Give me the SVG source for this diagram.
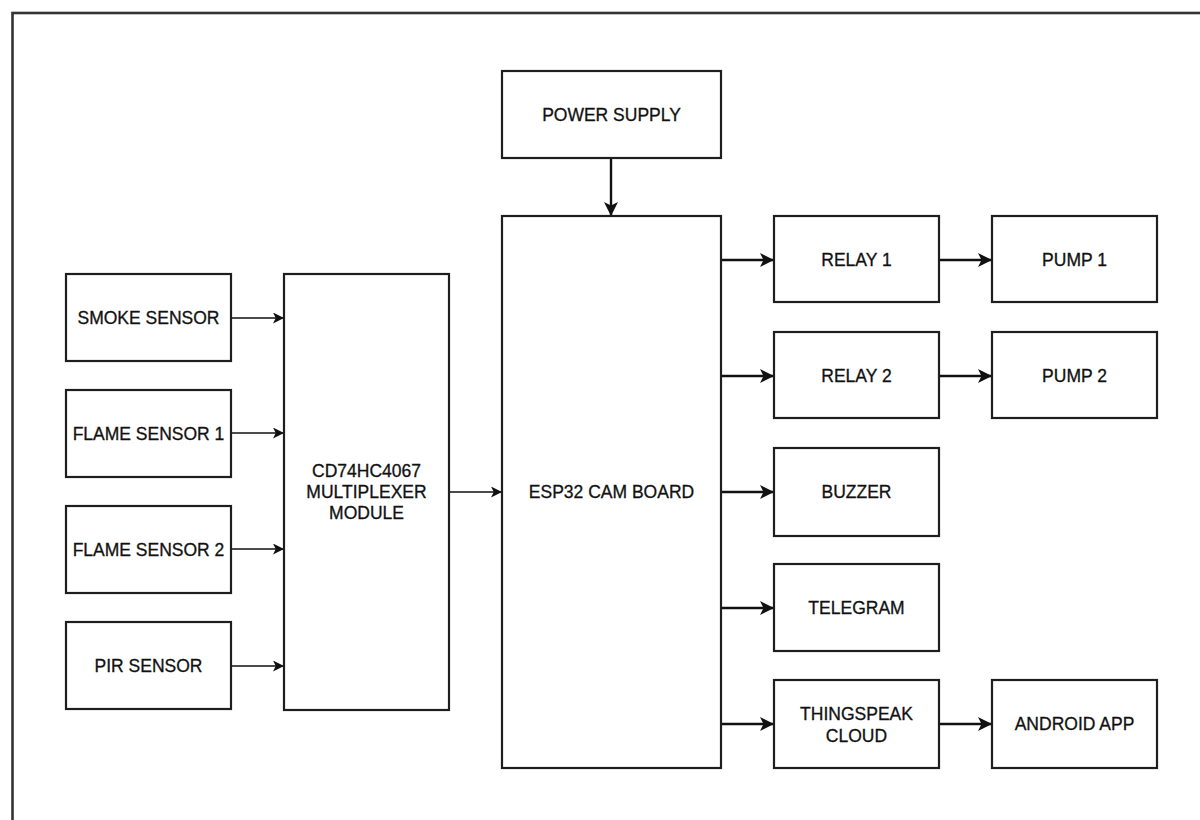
<svg xmlns="http://www.w3.org/2000/svg" width="1200" height="820" viewBox="0 0 1200 820">
<defs>
<style>
.box{fill:#fff;stroke:#1e1e1e;stroke-width:2.2}
.t{font-family:"Liberation Sans",Arial,sans-serif;font-size:17.5px;fill:#111;stroke:#111;stroke-width:0.3;text-anchor:middle}
.thin{stroke:#111;stroke-width:1.3;fill:none}
.thick{stroke:#111;stroke-width:2.4;fill:none}
</style>
<marker id="ah-s" viewBox="0 0 10 10" refX="10" refY="5" markerWidth="11" markerHeight="11" markerUnits="userSpaceOnUse" orient="auto">
<path d="M0,0 L10,5 L0,10 L2.5,5 Z" fill="#111"/>
</marker>
<marker id="ah-l" viewBox="0 0 10 10" refX="10" refY="5" markerWidth="14" markerHeight="14" markerUnits="userSpaceOnUse" orient="auto">
<path d="M0,0 L10,5 L0,10 L2.5,5 Z" fill="#111"/>
</marker>
</defs>
<rect width="1200" height="820" fill="#fff"/>
<rect x="12.5" y="13" width="1200" height="820" fill="none" stroke="#333" stroke-width="2.6"/>

<g id="connectors">
<path class="thin" d="M231,318 H284" marker-end="url(#ah-s)"/>
<path class="thin" d="M231,433 H284" marker-end="url(#ah-s)"/>
<path class="thin" d="M231,549 H284" marker-end="url(#ah-s)"/>
<path class="thin" d="M231,666 H284" marker-end="url(#ah-s)"/>
<path class="thin" d="M449,492 H502" marker-end="url(#ah-s)"/>
<path class="thick" d="M611,158 V216" marker-end="url(#ah-l)"/>
<path class="thick" d="M721,260 H774" marker-end="url(#ah-l)"/>
<path class="thick" d="M721,376 H774" marker-end="url(#ah-l)"/>
<path class="thick" d="M721,492 H774" marker-end="url(#ah-l)"/>
<path class="thick" d="M721,608 H774" marker-end="url(#ah-l)"/>
<path class="thick" d="M721,724 H774" marker-end="url(#ah-l)"/>
<path class="thick" d="M939,260 H992" marker-end="url(#ah-l)"/>
<path class="thick" d="M939,376 H992" marker-end="url(#ah-l)"/>
<path class="thick" d="M939,724 H992" marker-end="url(#ah-l)"/>
</g>

<g id="smoke"><rect class="box" x="66" y="274" width="165" height="87"/><text class="t" x="148.5" y="324">SMOKE SENSOR</text></g>
<g id="flame1"><rect class="box" x="66" y="390" width="165" height="87"/><text class="t" x="148.5" y="440">FLAME SENSOR 1</text></g>
<g id="flame2"><rect class="box" x="66" y="506" width="165" height="87"/><text class="t" x="148.5" y="556">FLAME SENSOR 2</text></g>
<g id="pir"><rect class="box" x="66" y="622" width="165" height="87"/><text class="t" x="148.5" y="672">PIR SENSOR</text></g>
<g id="mux"><rect class="box" x="284" y="274" width="165" height="436"/>
<text class="t" x="366.5" y="477">CD74HC4067</text>
<text class="t" x="366.5" y="498">MULTIPLEXER</text>
<text class="t" x="366.5" y="519">MODULE</text></g>
<g id="power"><rect class="box" x="502" y="71" width="219" height="87"/><text class="t" x="611.5" y="121">POWER SUPPLY</text></g>
<g id="esp32"><rect class="box" x="502" y="216" width="219" height="552"/><text class="t" x="611.5" y="498">ESP32 CAM BOARD</text></g>
<g id="relay1"><rect class="box" x="774" y="216" width="165" height="86"/><text class="t" x="856.5" y="266">RELAY 1</text></g>
<g id="relay2"><rect class="box" x="774" y="332" width="165" height="86"/><text class="t" x="856.5" y="382">RELAY 2</text></g>
<g id="buzzer"><rect class="box" x="774" y="448" width="165" height="88"/><text class="t" x="856.5" y="498">BUZZER</text></g>
<g id="telegram"><rect class="box" x="774" y="564" width="165" height="87"/><text class="t" x="856.5" y="614">TELEGRAM</text></g>
<g id="thingspeak"><rect class="box" x="774" y="680" width="165" height="88"/>
<text class="t" x="856.5" y="720">THINGSPEAK</text>
<text class="t" x="856.5" y="742">CLOUD</text></g>
<g id="pump1"><rect class="box" x="992" y="216" width="165" height="86"/><text class="t" x="1074.5" y="266">PUMP 1</text></g>
<g id="pump2"><rect class="box" x="992" y="332" width="165" height="86"/><text class="t" x="1074.5" y="382">PUMP 2</text></g>
<g id="android"><rect class="box" x="992" y="680" width="165" height="88"/><text class="t" x="1074.5" y="730">ANDROID APP</text></g>
</svg>
